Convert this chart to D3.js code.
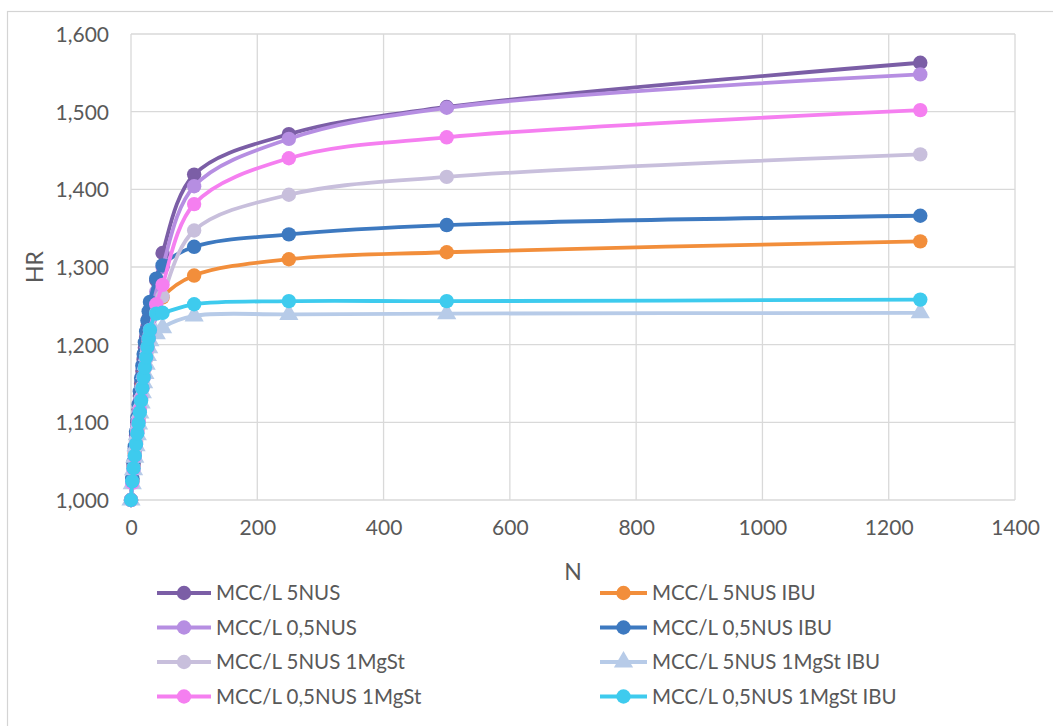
<!DOCTYPE html>
<html>
<head>
<meta charset="utf-8">
<script src="https://cdn.jsdelivr.net/npm/d3@7"></script>
<style>
  html, body { margin: 0; padding: 0; background: #fff; }
  svg { display: block; font-family: Lato, "Open Sans", "Liberation Sans", sans-serif; }
</style>
</head>
<body>
<svg id="chart" width="1053" height="726"></svg>
<script>
// Tap counts N and Hausner ratio (HR) for each formulation
const taps = [0, 2, 4, 6, 8, 10, 12, 14, 16, 18, 20, 22, 24, 26, 28, 30, 40, 50, 100, 250, 500, 1250];

const seriesNames = [
  "MCC/L 5NUS", "MCC/L 5NUS IBU",
  "MCC/L 0,5NUS", "MCC/L 0,5NUS IBU",
  "MCC/L 5NUS 1MgSt", "MCC/L 5NUS 1MgSt IBU",
  "MCC/L 0,5NUS 1MgSt", "MCC/L 0,5NUS 1MgSt IBU"
];
const seriesColors = [
  "#7b5ea6", "#f28e3b",
  "#b68ee2", "#3d79c0",
  "#c8bfdc", "#b7cbe8",
  "#f57ff0", "#3ecbee"
];
const seriesMarkers = ["circle", "circle", "circle", "circle", "circle", "triangle", "circle", "circle"];

const hr5NUS          = [1.000, 1.027, 1.047, 1.066, 1.083, 1.100, 1.117, 1.134, 1.150, 1.166, 1.181, 1.196, 1.210, 1.223, 1.234, 1.244, 1.283, 1.318, 1.419, 1.471, 1.506, 1.563];
const hr5NUSIBU       = [1.000, 1.024, 1.043, 1.060, 1.076, 1.091, 1.106, 1.120, 1.134, 1.148, 1.161, 1.174, 1.186, 1.198, 1.209, 1.219, 1.244, 1.261, 1.289, 1.310, 1.319, 1.333];
const hr05NUS         = [1.000, 1.025, 1.044, 1.062, 1.079, 1.095, 1.111, 1.127, 1.142, 1.157, 1.171, 1.185, 1.198, 1.211, 1.222, 1.233, 1.268, 1.300, 1.404, 1.465, 1.505, 1.548];
const hr05NUSIBU      = [1.000, 1.028, 1.049, 1.069, 1.088, 1.106, 1.123, 1.140, 1.157, 1.173, 1.188, 1.203, 1.217, 1.231, 1.243, 1.255, 1.285, 1.302, 1.326, 1.342, 1.354, 1.366];
const hr5NUSMgSt      = [1.000, 1.023, 1.041, 1.058, 1.074, 1.089, 1.103, 1.117, 1.131, 1.145, 1.158, 1.170, 1.182, 1.193, 1.204, 1.214, 1.241, 1.262, 1.347, 1.393, 1.416, 1.445];
const hr5NUSMgStIBU   = [1.000, 1.021, 1.039, 1.055, 1.070, 1.084, 1.098, 1.112, 1.125, 1.138, 1.151, 1.163, 1.175, 1.186, 1.196, 1.205, 1.214, 1.222, 1.237, 1.239, 1.240, 1.241];
const hr05NUSMgSt     = [1.000, 1.022, 1.040, 1.056, 1.072, 1.087, 1.101, 1.116, 1.130, 1.144, 1.158, 1.171, 1.184, 1.196, 1.208, 1.219, 1.252, 1.277, 1.381, 1.440, 1.467, 1.502];
const hr05NUSMgStIBU  = [1.000, 1.024, 1.041, 1.057, 1.072, 1.086, 1.099, 1.113, 1.128, 1.144, 1.158, 1.171, 1.184, 1.197, 1.208, 1.219, 1.240, 1.241, 1.252, 1.256, 1.256, 1.258];

const seriesValues = [
  hr5NUS, hr5NUSIBU,
  hr05NUS, hr05NUSIBU,
  hr5NUSMgSt, hr5NUSMgStIBU,
  hr05NUSMgSt, hr05NUSMgStIBU
];

const xTicks = [0, 200, 400, 600, 800, 1000, 1200, 1400];
const yTicks = [1.0, 1.1, 1.2, 1.3, 1.4, 1.5, 1.6];
const xTitle = "N";
const yTitle = "HR";

// ---- layout ----
const svg = d3.select("#chart");
const plot = { left: 131, right: 1015, top: 34, bottom: 500 };

const x = d3.scaleLinear().domain([0, 1400]).range([plot.left, plot.right]);
const y = d3.scaleLinear().domain([1.0, 1.6]).range([plot.bottom, plot.top]);

// outer chart frame
svg.append("rect")
  .attr("x", 7.5).attr("y", 11.5)
  .attr("width", 1100).attr("height", 760)
  .attr("fill", "#fff")
  .attr("stroke", "#d4d4d4").attr("stroke-width", 1.2);

const grid = svg.append("g");
// horizontal gridlines
grid.selectAll("line.h").data(yTicks).join("line")
  .attr("x1", plot.left).attr("x2", plot.right)
  .attr("y1", d => y(d)).attr("y2", d => y(d))
  .attr("stroke", "#d9d9d9").attr("stroke-width", 1.3);
// vertical gridlines
grid.selectAll("line.v").data(xTicks).join("line")
  .attr("y1", plot.top).attr("y2", plot.bottom)
  .attr("x1", d => x(d)).attr("x2", d => x(d))
  .attr("stroke", "#d9d9d9").attr("stroke-width", 1.3);

// axes via d3 axis generators (domain and tick marks hidden, labels kept)
const fmtY = v => d3.format(".3f")(v).replace(".", ",");
const yAxis = svg.append("g")
  .attr("transform", `translate(${plot.left - 19},0)`)
  .call(d3.axisLeft(y).tickValues(yTicks).tickFormat(fmtY).tickSize(0));
yAxis.select(".domain").remove();
yAxis.selectAll("text")
  .attr("fill", "#595959").attr("font-size", 21)
  .attr("font-family", "Lato, 'Open Sans', sans-serif")
  .attr("dy", "0.35em");

const xAxis = svg.append("g")
  .attr("transform", `translate(0,${plot.bottom + 17})`)
  .call(d3.axisBottom(x).tickValues(xTicks).tickFormat(d3.format("d")).tickSize(0));
xAxis.select(".domain").remove();
xAxis.selectAll("text")
  .attr("fill", "#595959").attr("font-size", 21)
  .attr("font-family", "Lato, 'Open Sans', sans-serif")
  .attr("dy", "0.71em");

// axis titles
svg.append("text")
  .attr("x", x(700)).attr("y", 580)
  .attr("text-anchor", "middle")
  .attr("fill", "#595959").attr("font-size", 23)
  .text(xTitle);
svg.append("text")
  .attr("transform", `translate(43,${y(1.3)}) rotate(-90)`)
  .attr("text-anchor", "middle")
  .attr("fill", "#595959").attr("font-size", 23)
  .text(yTitle);

// ---- series ----
const line = d3.line()
  .x(d => x(d.n))
  .y(d => y(d.v))
  .curve(d3.curveCatmullRom.alpha(0.5));

const triangle = d3.symbol().type(d3.symbolTriangle).size(160);

function drawMarker(g, shape, color, cx, cy, r) {
  if (shape === "triangle") {
    g.append("path")
      .attr("d", triangle())
      .attr("transform", `translate(${cx},${cy})`)
      .attr("fill", color);
  } else {
    g.append("circle")
      .attr("cx", cx).attr("cy", cy).attr("r", r)
      .attr("fill", color);
  }
}

const seriesLayer = svg.append("g");
seriesNames.forEach((name, i) => {
  const pts = taps.map((n, k) => ({ n, v: seriesValues[i][k] }));
  const g = seriesLayer.append("g");
  g.append("path")
    .datum(pts)
    .attr("d", line)
    .attr("fill", "none")
    .attr("stroke", seriesColors[i])
    .attr("stroke-width", 3.8)
    .attr("stroke-linejoin", "round");
  pts.forEach(p => drawMarker(g, seriesMarkers[i], seriesColors[i], x(p.n), y(p.v), 7.2));
});

// ---- legend ----
const legendCols = [{ x0: 157, x1: 211, text: 216 }, { x0: 600, x1: 647, text: 652 }];
const legendRows = [593, 627.5, 662, 696.5];
seriesNames.forEach((name, i) => {
  const col = legendCols[i % 2];
  const ry = legendRows[Math.floor(i / 2)];
  const g = svg.append("g");
  g.append("line")
    .attr("x1", col.x0).attr("x2", col.x1)
    .attr("y1", ry).attr("y2", ry)
    .attr("stroke", seriesColors[i]).attr("stroke-width", 3.8);
  drawMarker(g, seriesMarkers[i], seriesColors[i], (col.x0 + col.x1) / 2, ry, 7.2);
  g.append("text")
    .attr("x", col.text).attr("y", ry)
    .attr("dy", "0.35em")
    .attr("fill", "#595959").attr("font-size", 20.5)
    .text(name);
});
</script>
</body>
</html>
